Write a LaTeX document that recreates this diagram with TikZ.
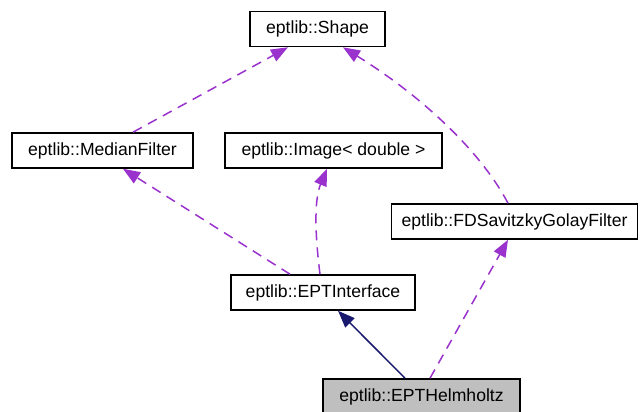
\documentclass[tikz,border=0pt]{standalone}
\usepackage{fontspec}
\setmainfont{Liberation Sans}
\usetikzlibrary{arrows.meta}
\definecolor{dep}{HTML}{9A32CD}
\definecolor{inh}{HTML}{191970}
\definecolor{cur}{HTML}{BFBFBF}
\begin{document}
\begin{tikzpicture}[x=1pt,y=-1pt,
  box/.style={draw=black,line width=1.6pt,rectangle,inner sep=0pt,minimum height=35pt,
    font=\fontsize{17.6}{21}\selectfont,anchor=center},
  usedep/.style={draw=dep,line width=1.5pt,dash pattern=on 10pt off 7pt,
    -{Triangle[length=17pt,width=13pt,fill=dep]}},
  inhedge/.style={draw=inh,line width=1.5pt,-{Triangle[length=17pt,width=13pt,fill=inh]}}]
\useasboundingbox (0,0) rectangle (640,412);
\begin{scope}
\clip (0,0) rectangle (640,412);
\node[box,minimum width=135pt] (shape) at (317.5,29) {eptlib::Shape};
\node[box,minimum width=181pt] (med) at (102.5,150.5) {eptlib::MedianFilter};
\node[box,minimum width=217pt] (img) at (333.5,150.5) {eptlib::Image< double >};
\node[box,minimum width=246pt] (fd) at (514.5,221.5) {eptlib::FDSavitzkyGolayFilter};
\node[box,minimum width=184pt] (epti) at (323,292.5) {eptlib::EPTInterface};
\node[box,minimum width=197pt,fill=cur] (helm) at (421.5,396.5) {eptlib::EPTHelmholtz};

\draw[usedep] ([xshift=30.5pt]med.north) -- ([xshift=-29.5pt]shape.south);
\draw[usedep] ([xshift=-6.5pt]fd.north) .. controls (480,150) and (420,95) .. ([xshift=25.5pt]shape.south);
\draw[usedep] ([xshift=-33pt]epti.north) -- ([xshift=20.5pt]med.south);
\draw[usedep] ([xshift=-3pt]epti.north) .. controls (315,235) and (314,200) .. ([xshift=-6.5pt]img.south);
\draw[inhedge] ([xshift=-16.5pt]helm.north) -- ([xshift=15pt]epti.south);
\draw[usedep] ([xshift=8.5pt]helm.north) -- ([xshift=-6.5pt]fd.south);
\end{scope}
\end{tikzpicture}
\end{document}
